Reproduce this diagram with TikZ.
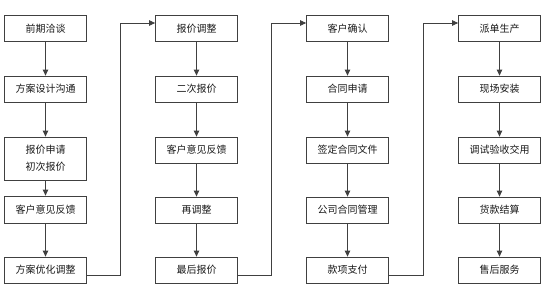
\documentclass[tikz,border=0pt]{standalone}
\usepackage{fontspec}
\newfontfamily\cjk{Noto Sans CJK SC}
\usetikzlibrary{arrows.meta,calc}
\begin{document}
\begin{tikzpicture}[x=1pt,y=-1pt,
  box/.style={draw=black!75,line width=0.8pt,minimum width=82pt,minimum height=26pt,inner sep=0pt,
    font=\cjk\fontsize{10}{17}\selectfont,text=black!90,align=center},
  link/.style={draw=black!75,line width=0.8pt,-{Triangle[length=6pt,width=5.5pt]}}]
\useasboundingbox (0,0) rectangle (545,303);
% column 1
\node[box] (a1) at (45.5,28.5) {前期洽谈};
\node[box] (a2) at (45.5,89) {方案设计沟通};
\node[box,minimum height=43pt] (a3) at (45.5,158.5) {报价申请\\初次报价};
\node[box,minimum height=27pt] (a4) at (45.5,209.5) {客户意见反馈};
\node[box] (a5) at (45.5,270) {方案优化调整};
% column 2
\node[box] (b1) at (196.5,28.5) {报价调整};
\node[box] (b2) at (196.5,89) {二次报价};
\node[box] (b3) at (196.5,150) {客户意见反馈};
\node[box] (b4) at (196.5,210) {再调整};
\node[box] (b5) at (196.5,270) {最后报价};
% column 3
\node[box] (c1) at (347.5,28.5) {客户确认};
\node[box] (c2) at (347.5,89) {合同申请};
\node[box] (c3) at (347.5,150) {签定合同文件};
\node[box] (c4) at (347.5,210) {公司合同管理};
\node[box] (c5) at (347.5,270) {款项支付};
% column 4
\node[box] (d1) at (499.5,28.5) {派单生产};
\node[box] (d2) at (499.5,89) {现场安装};
\node[box] (d3) at (499.5,150) {调试验收交用};
\node[box] (d4) at (499.5,210) {货款结算};
\node[box] (d5) at (499.5,270) {售后服务};
% vertical arrows
\foreach \c in {a,b,c,d}{
  \draw[link] (\c1) -- (\c2);
  \draw[link] (\c2) -- (\c3);
  \draw[link] (\c3) -- (\c4);
  \draw[link] (\c4) -- (\c5);
}
% column links
\coordinate (p1) at (120,275);
\coordinate (q1) at (120,23);
\coordinate (p2) at (271.5,275);
\coordinate (q2) at (271.5,23);
\coordinate (p3) at (423,275);
\coordinate (q3) at (423,23);
\draw[link] ($(a5.east)+(0,5)$) -- (p1) -- (q1) -- ($(b1.west)+(0,-5.5)$);
\draw[link] ($(b5.east)+(0,5)$) -- (p2) -- (q2) -- ($(c1.west)+(0,-5.5)$);
\draw[link] ($(c5.east)+(0,5)$) -- (p3) -- (q3) -- ($(d1.west)+(0,-5.5)$);
\end{tikzpicture}
\end{document}
